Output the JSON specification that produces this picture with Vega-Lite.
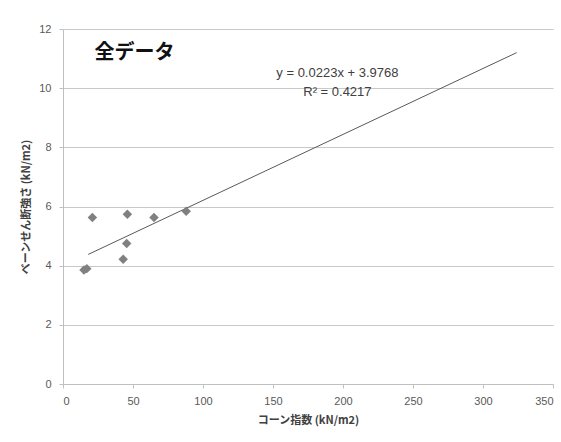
{
  "$schema": "https://vega.github.io/schema/vega-lite/v6.json",
  "width": 490,
  "height": 355,
  "autosize": {"type": "none"},
  "padding": {"left": 63, "top": 29, "right": 8, "bottom": 58},
  "background": "white",
  "config": {
    "view": {"stroke": null},
    "font": "Liberation Sans"
  },
  "datasets": {
    "points": [
      {"cone": 15, "vane": 3.85},
      {"cone": 17, "vane": 3.9},
      {"cone": 21, "vane": 5.63},
      {"cone": 43, "vane": 4.22},
      {"cone": 45.5, "vane": 4.75},
      {"cone": 46, "vane": 5.74},
      {"cone": 65, "vane": 5.63},
      {"cone": 88, "vane": 5.84}
    ],
    "trend": [
      {"cone": 18, "vane": 4.38},
      {"cone": 324, "vane": 11.2}
    ],
    "labels": [
      {"cone": 51, "vane": 11.2, "text": "全データ", "kind": "title"},
      {"cone": 196, "vane": 10.5, "text": "y = 0.0223x + 3.9768", "kind": "eq"},
      {"cone": 196, "vane": 9.86, "text": "R² = 0.4217", "kind": "eq"}
    ]
  },
  "layer": [
    {
      "data": {"name": "trend"},
      "mark": {"type": "line", "color": "#595959", "strokeWidth": 1},
      "encoding": {
        "x": {"field": "cone", "type": "quantitative"},
        "y": {"field": "vane", "type": "quantitative"}
      }
    },
    {
      "data": {"name": "points"},
      "mark": {"type": "point", "shape": "diamond", "filled": true, "size": 90, "color": "#808080", "opacity": 1},
      "encoding": {
        "x": {
          "field": "cone", "type": "quantitative",
          "scale": {"domain": [0, 350], "nice": false, "zero": true},
          "axis": {
            "values": [0, 50, 100, 150, 200, 250, 300, 350],
            "title": "コーン指数 (kN/m2)",
            "titleFont": "Noto Sans CJK JP",
            "titleFontSize": 11,
            "titleFontWeight": "bold",
            "titleColor": "#404040",
            "titlePadding": 8,
            "labelFont": "Liberation Sans",
            "labelFontSize": 11,
            "labelColor": "#595959",
            "labelPadding": 7,
            "grid": false,
            "domainColor": "#c0c0c0",
            "tickColor": "#c0c0c0",
            "tickSize": 4
          }
        },
        "y": {
          "field": "vane", "type": "quantitative",
          "scale": {"domain": [0, 12], "nice": false},
          "axis": {
            "values": [0, 2, 4, 6, 8, 10, 12],
            "title": "ベーンせん断強さ (kN/m2)",
            "titleFont": "Noto Sans CJK JP",
            "titleFontSize": 11,
            "titleFontWeight": "bold",
            "titleColor": "#404040",
            "titlePadding": 7,
            "labelFont": "Liberation Sans",
            "labelFontSize": 11,
            "labelColor": "#595959",
            "labelPadding": 8,
            "grid": true,
            "gridColor": "#c8c8c8",
            "gridWidth": 1.2,
            "domainColor": "#bfbfbf",
            "tickColor": "#bfbfbf",
            "tickSize": 4
          }
        }
      }
    },
    {
      "data": {"name": "labels"},
      "transform": [{"filter": "datum.kind === 'title'"}],
      "mark": {"type": "text", "font": "Noto Sans CJK JP", "fontSize": 20, "fontWeight": "bold", "color": "#111111", "align": "center", "baseline": "middle"},
      "encoding": {
        "x": {"field": "cone", "type": "quantitative"},
        "y": {"field": "vane", "type": "quantitative"},
        "text": {"field": "text"}
      }
    },
    {
      "data": {"name": "labels"},
      "transform": [{"filter": "datum.kind === 'eq'"}],
      "mark": {"type": "text", "font": "Liberation Sans", "fontSize": 13, "color": "#404040", "align": "center", "baseline": "middle"},
      "encoding": {
        "x": {"field": "cone", "type": "quantitative"},
        "y": {"field": "vane", "type": "quantitative"},
        "text": {"field": "text"}
      }
    }
  ]
}
